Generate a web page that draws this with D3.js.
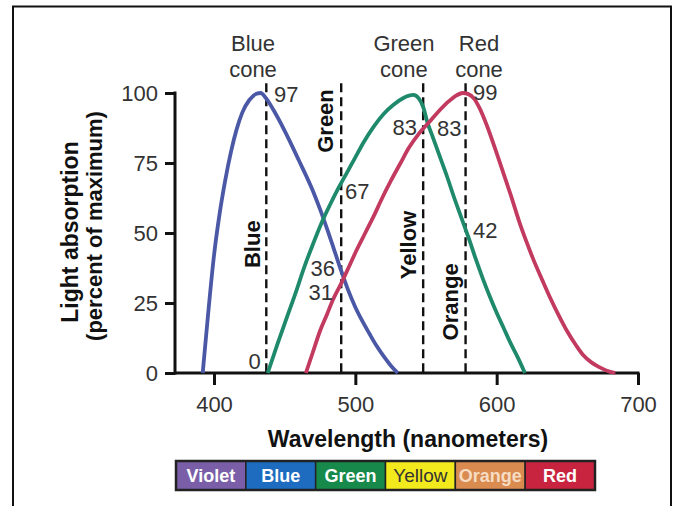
<!DOCTYPE html>
<html>
<head>
<meta charset="utf-8">
<script src="https://cdn.jsdelivr.net/npm/d3@7"></script>
<style>
  body { margin: 0; background: #fff; }
  svg { display: block; font-family: "Liberation Sans", Arial, sans-serif; }
</style>
</head>
<body>
<svg id="svg" width="679" height="506"></svg>
<script>
var width = 679;
var height = 506;

// absorption curves: [wavelength nm, percent of maximum]
var blueCone = [[392,0],[396,22],[400,42],[404,57],[408,69],[412,79],[416,87],[420,93],[425,97.5],[430,99.7],[433,100],[437,98],[442,94],[450,86.5],[460,76],[470,65],[475,58.5],[480,51.5],[485,44],[490,36.5],[495,29.5],[500,23.5],[505,18.5],[510,14],[515,9.7],[520,6],[525,2.7],[530,0]];
var greenCone = [[438,0],[445,10.5],[452,20.5],[458,29],[464,38],[470,46],[476,53.5],[482,60],[488,66],[494,71.5],[500,77],[506,82.5],[513,88],[520,92.5],[527,95.8],[534,98.2],[541,99.3],[545,98],[548,95],[551,89.5],[555,84],[560,77],[565,70],[570,62.5],[575,55.5],[580,48.5],[585,41],[590,34],[595,27.5],[600,21.5],[605,16],[610,10.5],[615,5.5],[620,0]];
var redCone = [[465,0],[470,7.5],[475,15],[480,21],[484,26],[490,32],[496,38.5],[501,44],[507,50],[513,56],[519,62.5],[525,68.5],[532,75],[538,80.5],[545,85.5],[553,90],[560,94],[566,97],[571,99],[576,100],[580,99.6],[584,98],[588,94.5],[593,88.5],[600,78.5],[605,71],[610,63.5],[616,54],[621,47],[626,40.5],[632,33.5],[638,26.7],[644,20.5],[650,14.8],[656,10],[661,6.5],[667,3.8],[673,2],[678,0.8],[684,0]];

var xTicks = [400, 500, 600, 700];
var yTicks = [0, 25, 50, 75, 100];

// dashed reference wavelengths
var markerWl = [437, 490, 548, 578];
var markerTop = 103.5;

// header names [text, wavelength]
var coneNames = [['Blue', 427.6], ['Green', 534.4], ['Red', 587.5]];

// rotated colour names [text, wavelength, value]
var bandNames = [['Blue', 426.9, 46], ['Green', 478.5, 90], ['Yellow', 537.3, 45.7], ['Orange', 567, 25.4]];

// value annotations [text, wavelength, value, anchor]
var valueLabels = [
  ['97', 442.5, 99.6, 'start'],
  ['0', 433, 4.3, 'end'],
  ['67', 492.7, 64.8, 'start'],
  ['36', 485.6, 37.5, 'end'],
  ['31', 484.2, 28.9, 'end'],
  ['83', 543.6, 88, 'end'],
  ['83', 557.8, 87.5, 'start'],
  ['99', 583.3, 100.4, 'start'],
  ['42', 583.3, 51, 'start']
];

// spectrum bar
var spectrum = ['Violet', 'Blue', 'Green', 'Yellow', 'Orange', 'Red'];
var spectrumFill = ['#7a5fa8', '#1d6cc0', '#178a4b', '#f3ea1e', '#d98b50', '#c8243f'];
var spectrumText = ['#fff', '#fff', '#fff', '#333', '#f6dcc2', '#fff'];

var svg = d3.select('svg');

svg.append('rect')
    .attr('x', 13).attr('y', 6.5)
    .attr('width', 658).attr('height', 520)
    .attr('fill', 'white')
    .attr('stroke', '#111')
    .attr('stroke-width', 2);

var x = d3.scaleLinear().domain([372.4, 700]).range([175, 638]);
var y = d3.scaleLinear().domain([0, 100]).range([373, 93]);

// axes
var xAxis = svg.append('g')
    .attr('transform', 'translate(0,' + y(0) + ')')
    .call(d3.axisBottom(x).tickValues(xTicks).tickSize(12).tickPadding(11).tickSizeOuter(0));
xAxis.select('.domain').remove();
xAxis.selectAll('line').attr('stroke', '#111').attr('stroke-width', 3);
xAxis.selectAll('text').attr('font-size', 22).attr('fill', '#333')
    .style('font-family', '"Liberation Sans", Arial, sans-serif');

var yAxis = svg.append('g')
    .attr('transform', 'translate(' + x.range()[0] + ',0)')
    .call(d3.axisLeft(y).tickValues(yTicks).tickSize(10).tickPadding(7).tickSizeOuter(0));
yAxis.select('.domain').remove();
yAxis.selectAll('line').attr('stroke', '#111').attr('stroke-width', 3);
yAxis.selectAll('text').attr('font-size', 22).attr('fill', '#333')
    .style('font-family', '"Liberation Sans", Arial, sans-serif');

svg.append('line')
    .attr('x1', x.range()[0]).attr('x2', x(700) + 1.5)
    .attr('y1', y(0)).attr('y2', y(0))
    .attr('stroke', '#111').attr('stroke-width', 3);
svg.append('line')
    .attr('x1', x.range()[0]).attr('x2', x.range()[0])
    .attr('y1', y(0) + 1.5).attr('y2', y(100) - 1.5)
    .attr('stroke', '#111').attr('stroke-width', 3);

// dashed lines
svg.selectAll('.marker')
    .data(markerWl)
    .enter()
    .append('line')
    .attr('class', 'marker')
    .attr('x1', function(d){ return x(d); })
    .attr('x2', function(d){ return x(d); })
    .attr('y1', y(markerTop))
    .attr('y2', y(0))
    .attr('stroke', '#111')
    .attr('stroke-width', 2.4)
    .attr('stroke-dasharray', '9,5');

// curves
var line = d3.line()
    .x(function(d){ return x(d[0]); })
    .y(function(d){ return y(d[1]); })
    .curve(d3.curveMonotoneX);

var curves = [[blueCone, '#4a58a6'], [greenCone, '#1f8a6b'], [redCone, '#c23a60']];
curves.forEach(function(c){
    svg.append('path')
        .attr('d', line(c[0]))
        .attr('fill', 'none')
        .attr('stroke', c[1])
        .attr('stroke-width', 3.8)
        .attr('stroke-linejoin', 'round');
});

// header names
coneNames.forEach(function(c){
    var t = svg.append('text')
        .attr('x', x(c[1]))
        .attr('text-anchor', 'middle')
        .attr('font-size', 22)
        .attr('fill', '#333');
    t.append('tspan').attr('x', x(c[1])).attr('y', 51).text(c[0]);
    t.append('tspan').attr('x', x(c[1])).attr('y', 77).text('cone');
});

// rotated band names
bandNames.forEach(function(b){
    svg.append('text')
        .attr('transform', 'translate(' + x(b[1]) + ',' + y(b[2]) + ') rotate(-90)')
        .attr('text-anchor', 'middle')
        .attr('dy', '0.36em')
        .attr('font-size', 22)
        .attr('font-weight', 'bold')
        .attr('fill', '#111')
        .text(b[0]);
});

// value labels
svg.selectAll('.val')
    .data(valueLabels)
    .enter()
    .append('text')
    .attr('class', 'val')
    .attr('x', function(d){ return x(d[1]); })
    .attr('y', function(d){ return y(d[2]); })
    .attr('dy', '0.36em')
    .attr('text-anchor', function(d){ return d[3]; })
    .attr('font-size', 22)
    .attr('fill', '#333')
    .text(function(d){ return d[0]; });

// axis titles
svg.append('text')
    .attr('x', 408).attr('y', 447)
    .attr('text-anchor', 'middle')
    .attr('font-size', 23)
    .attr('font-weight', 'bold')
    .attr('fill', '#111')
    .text('Wavelength (nanometers)');

svg.append('text')
    .attr('transform', 'translate(78,232) rotate(-90)')
    .attr('text-anchor', 'middle')
    .attr('font-size', 23)
    .attr('font-weight', 'bold')
    .attr('fill', '#111')
    .text('Light absorption');
svg.append('text')
    .attr('transform', 'translate(102,226) rotate(-90)')
    .attr('text-anchor', 'middle')
    .attr('font-size', 22)
    .attr('font-weight', 'bold')
    .attr('fill', '#111')
    .text('(percent of maximum)');

// spectrum bar
var band = d3.scaleBand().domain(spectrum).range([176, 595]);
var bar = svg.append('g');
bar.selectAll('rect')
    .data(spectrum)
    .enter()
    .append('rect')
    .attr('x', function(d){ return band(d); })
    .attr('y', 461)
    .attr('width', band.bandwidth())
    .attr('height', 29)
    .attr('fill', function(d, i){ return spectrumFill[i]; })
    .attr('stroke', '#222')
    .attr('stroke-width', 1.5);
bar.append('rect')
    .attr('x', 176).attr('y', 461)
    .attr('width', 595 - 176).attr('height', 29)
    .attr('fill', 'none')
    .attr('stroke', '#222')
    .attr('stroke-width', 2.5);
bar.selectAll('text')
    .data(spectrum)
    .enter()
    .append('text')
    .attr('x', function(d){ return band(d) + band.bandwidth() / 2; })
    .attr('y', 482)
    .attr('text-anchor', 'middle')
    .attr('font-size', function(d){ return d == 'Yellow' ? 19 : 18; })
    .attr('font-weight', function(d){ return d == 'Yellow' ? 'normal' : 'bold'; })
    .attr('fill', function(d, i){ return spectrumText[i]; })
    .text(function(d){ return d; });
</script>
</body>
</html>
